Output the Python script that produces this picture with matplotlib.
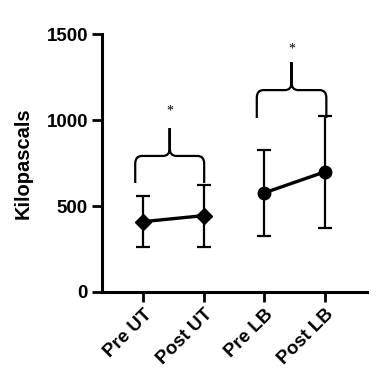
import numpy as np
import matplotlib
matplotlib.use("Agg")
import matplotlib.pyplot as plt
from matplotlib.path import Path
from matplotlib.patches import PathPatch

# Section: Data (kPa, mean +/- SD)
# ---
categories = ["Pre UT", "Post UT", "Pre LB", "Post LB"]
ut_mean = [409, 444]
ut_sd = [150, 180]
lb_mean = [576, 698]
lb_sd = [252, 328]

# brace annotations: (x_left, x_right, y_ends, y_flat, y_peak, y_star)
braces = [
    (-0.13, 1.01, 634, 791, 953, 1052),
    (1.88, 3.03, 1012, 1174, 1337, 1413),
]

plt.rcParams['font.family'] = ['Liberation Sans', 'DejaVu Sans']

# Section: Figure
# ---
fig = plt.figure(figsize=(3.79, 3.85), dpi=100)
ax = fig.add_axes([0.269, 0.2416, 0.699, 0.67])

x = np.arange(len(categories))
ax.errorbar(x[:2], ut_mean, yerr=ut_sd, fmt='D-', color='black', lw=2.4,
            ms=8, elinewidth=1.6, capsize=5, capthick=1.6)
ax.errorbar(x[2:], lb_mean, yerr=lb_sd, fmt='o-', color='black', lw=2.4,
            ms=9, elinewidth=1.6, capsize=5, capthick=1.6)


def brace(x0, x1, yb, yf, yp, ys):
    rx, ry = 0.11, 45
    xm = (x0 + x1) / 2
    verts = [(x0, yb), (x0, yf - ry), (x0, yf), (x0 + rx, yf),
             (xm - rx, yf), (xm, yf), (xm, yf + ry), (xm, yp),
             (xm, yf + ry), (xm, yf), (xm + rx, yf),
             (x1 - rx, yf), (x1, yf), (x1, yf - ry), (x1, yb)]
    codes = [Path.MOVETO, Path.LINETO, Path.CURVE3, Path.CURVE3,
             Path.LINETO, Path.CURVE3, Path.CURVE3, Path.LINETO,
             Path.LINETO, Path.CURVE3, Path.CURVE3,
             Path.LINETO, Path.CURVE3, Path.CURVE3, Path.LINETO]
    ax.add_patch(PathPatch(Path(verts, codes), fc='none', ec='black', lw=1.6))
    ax.text(xm, ys, '*', ha='center', va='center', fontsize=10,
            family='Liberation Serif')


for b in braces:
    brace(*b)

ax.set_xlim(-0.68, 3.7)
ax.set_ylim(0, 1500)
ax.set_yticks([0, 500, 1000, 1500])
ax.set_xticks(x)
ax.set_xticklabels(categories, rotation=45, ha='right', rotation_mode='anchor',
                   fontweight='bold', fontsize=13.5)
for lab in ax.get_yticklabels():
    lab.set_fontweight('bold')
    lab.set_fontsize(13.5)
ax.set_ylabel("Kilopascals", fontweight='bold', fontsize=14.5)
ax.yaxis.set_label_coords(-0.26, 0.5)

for s in ['top', 'right']:
    ax.spines[s].set_visible(False)
for s in ['left', 'bottom']:
    ax.spines[s].set_linewidth(2.2)
ax.tick_params(width=2, length=7, pad=3)

fig.savefig("out.png", dpi=100)
